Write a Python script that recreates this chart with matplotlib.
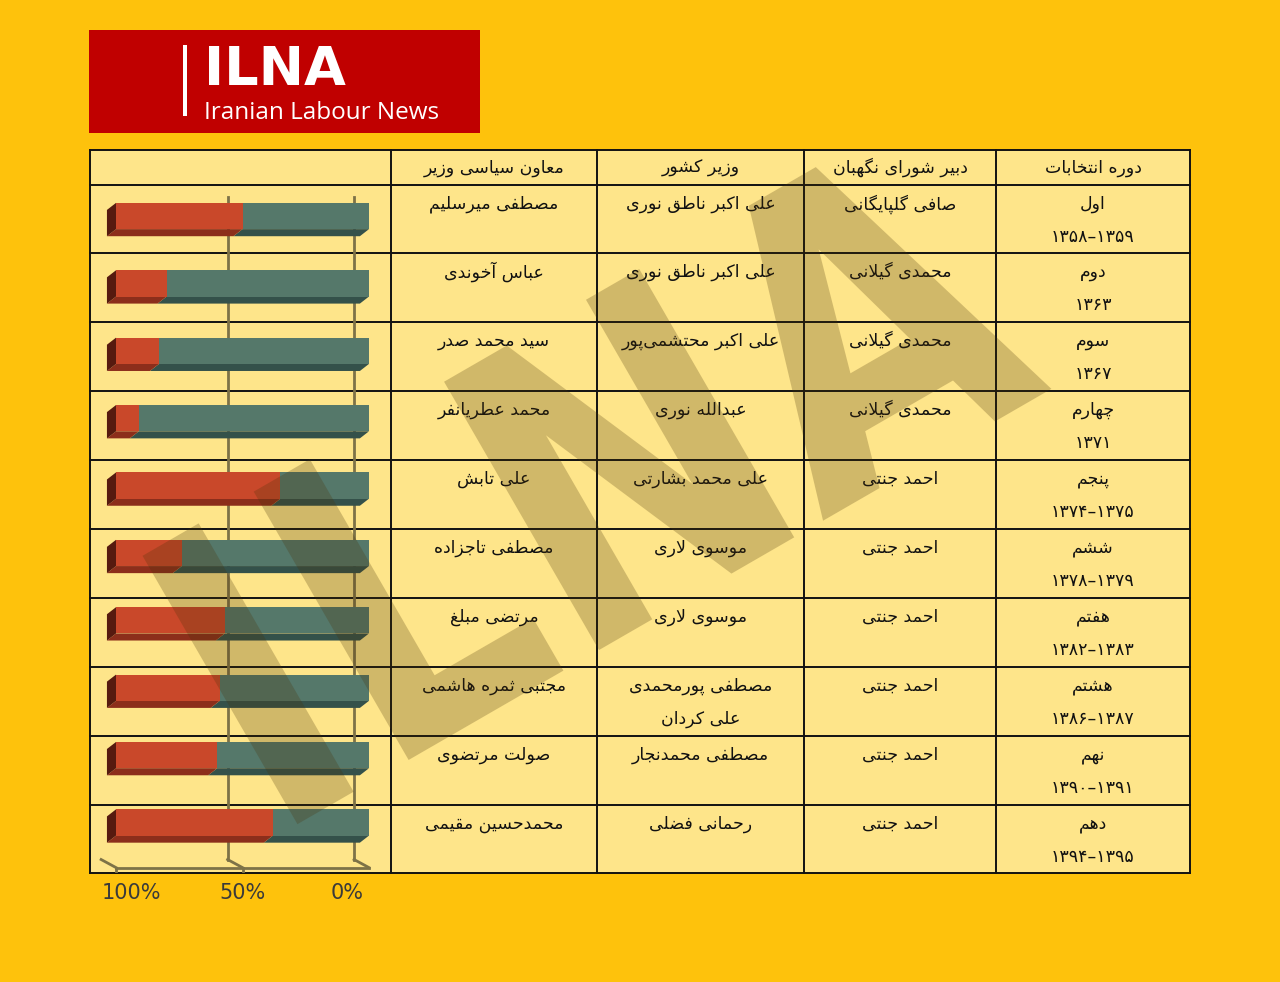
import matplotlib
matplotlib.use("Agg")
import matplotlib.pyplot as plt
import matplotlib.transforms as mtransforms
from matplotlib.patches import Rectangle, Polygon, PathPatch
from matplotlib.textpath import TextPath
from matplotlib.font_manager import FontProperties

W, H = 1280, 982

# ---- data ----
headers = ["دوره انتخابات", "دبیر شورای نگهبان", "وزیر کشور", "معاون سیاسی وزیر"]
periods = ["اول", "دوم", "سوم", "چهارم", "پنجم", "ششم", "هفتم", "هشتم", "نهم", "دهم"]
years = ["۱۳۵۸–۱۳۵۹", "۱۳۶۳", "۱۳۶۷", "۱۳۷۱", "۱۳۷۴–۱۳۷۵",
         "۱۳۷۸–۱۳۷۹", "۱۳۸۲–۱۳۸۳", "۱۳۸۶–۱۳۸۷", "۱۳۹۰–۱۳۹۱", "۱۳۹۴–۱۳۹۵"]
council_secretaries = ["صافی گلپایگانی", "محمدی گیلانی", "محمدی گیلانی", "محمدی گیلانی",
                       "احمد جنتی", "احمد جنتی", "احمد جنتی", "احمد جنتی", "احمد جنتی", "احمد جنتی"]
interior_ministers = ["علی اکبر ناطق نوری", "علی اکبر ناطق نوری", "علی اکبر محتشمی‌پور",
                      "عبدالله نوری", "علی محمد بشارتی", "موسوی لاری", "موسوی لاری",
                      "مصطفی پورمحمدی\nعلی کردان", "مصطفی محمدنجار", "رحمانی فضلی"]
political_deputies = ["مصطفی میرسلیم", "عباس آخوندی", "سید محمد صدر", "محمد عطریانفر",
                      "علی تابش", "مصطفی تاجزاده", "مرتضی مبلغ", "مجتبی ثمره هاشمی",
                      "صولت مرتضوی", "محمدحسین مقیمی"]
red_share = [0.50, 0.20, 0.17, 0.09, 0.65, 0.26, 0.43, 0.41, 0.40, 0.62]
green_share = [0.50, 0.80, 0.83, 0.91, 0.35, 0.74, 0.57, 0.59, 0.60, 0.38]
axis_ticks = [1.0, 0.5, 0.0]
axis_labels = ["100%", "50%", "0%"]

# ---- minimal arabic/persian shaping (matplotlib has no shaping/bidi) ----
JOIN = {
    'ا': (0xFE8D, 2), 'آ': (0xFE81, 2), 'أ': (0xFE83, 2), 'إ': (0xFE87, 2),
    'ؤ': (0xFE85, 2), 'ئ': (0xFE89, 4), 'ب': (0xFE8F, 4), 'ة': (0xFE93, 2),
    'ت': (0xFE95, 4), 'ث': (0xFE99, 4), 'ج': (0xFE9D, 4), 'ح': (0xFEA1, 4),
    'خ': (0xFEA5, 4), 'د': (0xFEA9, 2), 'ذ': (0xFEAB, 2), 'ر': (0xFEAD, 2),
    'ز': (0xFEAF, 2), 'س': (0xFEB1, 4), 'ش': (0xFEB5, 4), 'ص': (0xFEB9, 4),
    'ض': (0xFEBD, 4), 'ط': (0xFEC1, 4), 'ظ': (0xFEC5, 4), 'ع': (0xFEC9, 4),
    'غ': (0xFECD, 4), 'ف': (0xFED1, 4), 'ق': (0xFED5, 4), 'ك': (0xFED9, 4),
    'ل': (0xFEDD, 4), 'م': (0xFEE1, 4), 'ن': (0xFEE5, 4), 'ه': (0xFEE9, 4),
    'و': (0xFEED, 2), 'ى': (0xFEEF, 2), 'ي': (0xFEF1, 4), 'پ': (0xFB56, 4),
    'چ': (0xFB7A, 4), 'ژ': (0xFB8A, 2), 'ک': (0xFB8E, 4), 'گ': (0xFB92, 4),
    'ی': (0xFBFC, 4),
}
LAM_ALEF = {'ا': (0xFEFB, 0xFEFC), 'آ': (0xFEF5, 0xFEF6),
            'أ': (0xFEF7, 0xFEF8), 'إ': (0xFEF9, 0xFEFA)}


def dual(c):
    return c in JOIN and JOIN[c][1] == 4


def shape_line(s):
    if not any(c in JOIN for c in s):
        return s
    out = []
    i, n = 0, len(s)
    while i < n:
        c = s[i]
        if c not in JOIN:
            out.append(c)
            i += 1
            continue
        joins_prev = i > 0 and dual(s[i - 1])
        if c == 'ل' and i + 1 < n and s[i + 1] in LAM_ALEF:
            iso, fin = LAM_ALEF[s[i + 1]]
            out.append(chr(fin if joins_prev else iso))
            i += 2
            continue
        joins_next = dual(c) and i + 1 < n and s[i + 1] in JOIN
        base, _ = JOIN[c]
        if joins_prev and joins_next:
            k = 3
        elif joins_prev:
            k = 1
        elif joins_next:
            k = 2
        else:
            k = 0
        out.append(chr(base + k))
        i += 1
    return ''.join(reversed(out)).replace('\u200c', '')


def rtl(s):
    return '\n'.join(shape_line(line) for line in s.split('\n'))


# ---- figure ----
fig = plt.figure(figsize=(W / 100, H / 100), dpi=100)
fig.patch.set_facecolor('#FEC20C')

bg = fig.add_axes([0, 0, 1, 1])
bg.set_xlim(0, W)
bg.set_ylim(H, 0)
bg.axis('off')

# logo
bg.add_patch(Rectangle((89, 30), 391, 103, color='#C00000', lw=0))
bg.add_patch(Rectangle((183, 45), 4, 71, color='white', lw=0))
bg.text(204, 85, "ILNA", color='white', fontsize=39, fontweight='bold',
        family='DejaVu Sans', va='baseline', ha='left')
bg.text(204, 119, "Iranian Labour News", color='white', fontsize=17.5,
        family='Open Sans', va='baseline', ha='left')

# table
col_edges = [90, 391, 597, 804, 996, 1190]
row_edges = [150, 185, 253, 322, 391, 460, 529, 598, 667, 736, 805, 873]
bg.add_patch(Rectangle((col_edges[0], row_edges[0]), col_edges[-1] - col_edges[0],
                       row_edges[-1] - row_edges[0], color='#FEE58A', lw=0))
for x in col_edges:
    bg.plot([x, x], [row_edges[0], row_edges[-1]], color='#111111', lw=1.4)
for y in row_edges:
    bg.plot([col_edges[0], col_edges[-1]], [y, y], color='#111111', lw=1.4)

col_centers = [(col_edges[k] + col_edges[k + 1]) / 2 for k in range(len(col_edges) - 1)]
text_cols = [col_centers[4], col_centers[3], col_centers[2], col_centers[1]]
txt = dict(fontsize=12.5, family='DejaVu Sans', ha='center', va='center', color='#111111')

for c, h in zip(text_cols, headers):
    bg.text(c, (row_edges[0] + row_edges[1]) / 2, rtl(h), **txt)

columns = [council_secretaries, interior_ministers, political_deputies]
for i in range(len(periods)):
    top = row_edges[i + 1]
    bg.text(text_cols[0], top + 19, rtl(periods[i]), **txt)
    bg.text(text_cols[0], top + 52, years[i], **txt)
    for c, col in zip(text_cols[1:], columns):
        for j, line in enumerate(col[i].split('\n')):
            bg.text(c, top + 19 + 33 * j, rtl(line), **txt)

# ---- pseudo-3D stacked bar chart in the first column ----
ax = fig.add_axes([90 / W, 1 - 873 / H, 301 / W, 688 / H])
ax.set_facecolor('none')
ax.axis('off')
ax.set_xlim(1.103, -0.087)
ax.set_ylim(9.75, -0.46)

ypos = list(range(len(red_share)))
bar_h = 0.39
dv, dy = 0.036, 0.105  # extrusion (left / down)
red, red_bot, red_side = '#C9482A', '#8C2E1B', '#561A0F'
grn, grn_bot = '#55786A', '#34514A'
grid_c = '#7D7247'

back = mtransforms.ScaledTranslation(-0.15, 0, fig.dpi_scale_trans)
for v in [0.5, 0.0]:
    ax.plot([v, v], [-0.28, 9.56], color=grid_c, lw=2, zorder=1,
            transform=ax.transData + back)

ax.barh(ypos, green_share, left=0, height=bar_h, color=grn, zorder=3)
ax.barh(ypos, red_share, left=green_share, height=bar_h, color=red, zorder=3)

for y, g, r in zip(ypos, green_share, red_share):
    yb = y + bar_h / 2
    yt = y - bar_h / 2
    for a, b, col in [(0, g, grn_bot), (g, g + r, red_bot)]:
        ax.add_patch(Polygon([(a, yb), (b, yb), (b + dv, yb + dy), (a + dv, yb + dy)],
                             closed=True, color=col, lw=0, zorder=2))
    e = g + r
    ax.add_patch(Polygon([(e, yt), (e, yb), (e + dv, yb + dy), (e + dv, yt + dy)],
                         closed=True, color=red_side, lw=0, zorder=2))

# floor
floor_y = 9.67
ax.plot([1.0, 0.0], [floor_y, floor_y], color=grid_c, lw=2, zorder=1)
for v in axis_ticks:
    ax.plot([v, v + 0.059], [floor_y, floor_y - 0.12], color=grid_c, lw=2, zorder=1)
for v in axis_ticks[:2]:
    ax.plot([v, v], [floor_y, floor_y + 0.09], color=grid_c, lw=2, zorder=1)

label_y = (873 - 893) / 688
label_shift = [0.06, 0.0, -0.085]
for v, lab, s in zip(axis_ticks, axis_labels, label_shift):
    ax.text(v - s, label_y, lab, transform=ax.get_xaxis_transform(),
            ha='center', va='center', fontsize=15, color='#3A3A3A', clip_on=False)

# watermark
wm_path = TextPath((0, 0), "ILNA", size=1,
                   prop=FontProperties(family='DejaVu Sans', weight='bold'))
wm_tr = (mtransforms.Affine2D().scale(345, 425).rotate_deg(30)
         .translate(270, H - 840).scale(1 / W, 1 / H) + fig.transFigure)
fig.add_artist(PathPatch(wm_path, transform=wm_tr, facecolor='#4A3208',
                         edgecolor='none', alpha=0.25, zorder=10))

fig.savefig('out.png', dpi=100, facecolor=fig.get_facecolor())
